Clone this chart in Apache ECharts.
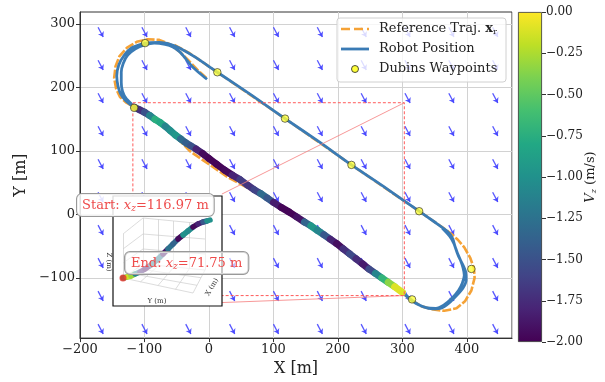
<!DOCTYPE html>
<html>
<head>
<meta charset="utf-8">
<script src="https://cdn.jsdelivr.net/npm/echarts@6/dist/echarts.min.js"></script>
<style>
html, body { margin: 0; padding: 0; background: #fff; }
#chart { width: 605px; height: 382px; }
</style>
</head>
<body>
<div id="chart"></div>
<script>
// ---- data ----
var yTicks = [-100, 0, 100, 200, 300];

// quiver grid (tails) and the single current vector
var quiverX = [-172, -104, -36, 32, 100, 168, 236, 304, 372, 440];
var quiverY = [295, 243, 191, 139, 87, 35, -17, -69, -121, -173];
var quiverU = [8];
var quiverV = [-15.5];

// Dubins waypoints
var wpX = [-99, 13, 118, -116, 221, 326, 407, 315];
var wpY = [270, 224, 151, 168, 78, 5, -86, -134];

// reference trajectory
var refX = [-4, -18, -32, -45, -60, -77, -95, -112, -127, -139, -145, -147, -144, -138, -128, -118,
  -90, -60, -30, 0, 30, 60, 100, 150, 200, 250, 300,
  315, 330, 348, 365, 384, 397, 407, 412, 411, 405, 396, 386, 376,
  370, 326, 221, 118, 13, -30, -55];
var refY = [215, 228, 243, 256, 268, 275, 276, 272, 263, 249, 233, 215, 198, 185, 176, 170,
  154, 132, 100, 79, 58, 42, 17, -15, -49, -88, -124,
  -136, -145, -150, -152, -148, -137, -120, -100, -85, -68, -52, -40, -31,
  -26, 5, 78, 151, 224, 254, 268];

// robot path pieces
var startLoopX = [-3, -14, -26, -35, -45, -56, -68, -85, -100, -114, -126, -133, -136, -136, -134, -128, -118];
var startLoopY = [213, 222, 233, 244, 256, 264, 268, 270, 267, 261, 251, 238, 224, 208, 194, 182, 172];

var descentX = [-116, -108, -100, -92, -84, -76, -68, -60, -52, -44, -36, -28, -20, -10, 0, 12, 24, 36, 48, 60,
  70, 80, 90, 100, 112, 124, 136, 148, 158, 168, 178, 188, 198, 208, 218, 228, 238, 248, 258, 268, 278, 288, 300];
var descentY = [169, 165, 161, 156, 150, 145, 139, 132, 125, 119, 113, 108, 103, 96, 88, 79, 70, 62, 55, 46,
  39, 33, 26, 19, 11, 4, -4, -12, -18, -25, -32, -39, -46, -54, -62, -70, -78, -86, -93, -100, -107, -114, -123];
var descentVz = [-1.4, -1.75, -1.7, -1.3, -0.9, -0.6, -1.0, -1.2, -0.8, -1.1, -1.5, -1.3, -1.7, -1.9, -2.0, -1.95, -2.0, -1.9, -1.7, -1.6,
  -1.8, -1.4, -1.2, -1.7, -2.0, -1.95, -2.0, -1.8, -0.9, -1.0, -1.2, -1.7, -1.9, -1.95, -1.5, -1.6, -1.9, -1.8, -1.3, -0.9, -0.5, -0.2, 0.0];

var turnAX = [310, 320, 333, 347, 360, 372, 384, 394, 399, 398, 393, 387, 382, 378, 370];
var turnAY = [-131, -139, -146, -149, -148, -140, -128, -116, -103, -90, -78, -66, -52, -38, -27];

var legX = [350, 326, 275, 221, 170, 118, 66, 13, -20, -45, -60, -77, -99, -119, -132, -140, -143, -141, -137, -129, -118];
var legY = [-12, 5, 41, 78, 115, 151, 188, 224, 247, 262, 268, 271, 270, 263, 250, 235, 218, 202, 190, 179, 170];

var turnBX = [310, 322, 337, 352, 364, 376, 387, 393, 396, 394, 390, 385, 380, 373, 362];
var turnBY = [-132, -141, -147, -148, -143, -133, -120, -108, -96, -84, -72, -60, -46, -34, -22];

// zoom rectangle and inset connectors
var zoomRectX = [-118, 303, 303, -118, -118];
var zoomRectY = [176, 176, -128, -128, 176];
var connectors = [
  [[303, 176], [20, 32]],
  [[303, -128], [20, -139]],
  [[-118, -128], [-149, -139]]
];

// inset (3D view, projected) in inset units
var insetX = [10, 14, 18, 22, 27, 32, 38, 44, 50, 55, 60, 65, 70, 75, 80, 85, 90, 94, 97];
var insetY = [82, 81, 80, 78, 76, 73, 69, 64, 58, 53, 48, 43, 39, 35, 31, 28, 26, 25, 24];
var insetVz = [-1.0, -0.3, 0.0, -0.6, -1.6, -2.0, -1.9, -0.4, -2.0, -1.8, -0.7, -2.0, -1.9, -0.1, -2.0, -1.9, -1.7, -1.2, -0.8];
var insetPane = [
  [[10, 38], [10, 82]], [[10, 38], [30, 22]], [[30, 22], [30, 68]], [[10, 82], [30, 68]],
  [[10, 53], [30, 38]], [[10, 67], [30, 53]],
  [[30, 22], [92, 28]], [[92, 28], [92, 74]], [[30, 68], [92, 74]],
  [[45, 23.5], [45, 69.5]], [[60, 25], [60, 71]], [[76, 26.5], [76, 72.5]],
  [[30, 38], [92, 43]], [[30, 53], [92, 58]],
  [[10, 82], [80, 97]], [[80, 97], [92, 74]],
  [[16.7, 77.3], [84, 89.3]], [[23.3, 72.7], [88, 81.7]],
  [[27.5, 85.8], [45.5, 69.5]], [[45, 89.5], [61, 71]], [[62.5, 93.3], [76.5, 72.5]]
];

// ---- helpers ----
var viridisStops = ['#440154', '#482475', '#414487', '#355f8d', '#2a788e', '#21918c',
  '#22a884', '#44bf70', '#7ad151', '#bddf26', '#fde725'];

function hexRgb(h) {
  return [parseInt(h.substr(1, 2), 16), parseInt(h.substr(3, 2), 16), parseInt(h.substr(5, 2), 16)];
}
function viridis(vz) {
  var t = Math.max(0, Math.min(1, (vz + 2) / 2)) * 10;
  var i = Math.min(9, Math.floor(t));
  var f = t - i;
  var a = hexRgb(viridisStops[i]), b = hexRgb(viridisStops[i + 1]);
  var c = [0, 1, 2].map(function (k) { return Math.round(a[k] + (b[k] - a[k]) * f); });
  return 'rgb(' + c.join(',') + ')';
}
function zip(xs, ys) {
  return xs.map(function (x, i) { return [x, ys[i]]; });
}
function colorSegments(xs, ys, vs) {
  var out = [];
  for (var i = 0; i < xs.length - 1; i++) {
    out.push({
      coords: [[xs[i], ys[i]], [xs[i + 1], ys[i + 1]]],
      lineStyle: { color: viridis((vs[i] + vs[i + 1]) / 2) }
    });
  }
  return out;
}
function minus(v) { return String(v).replace('-', '\u2212'); }

var quiverData = [];
quiverX.forEach(function (x) {
  quiverY.forEach(function (y) {
    quiverData.push({ coords: [[x, y], [x + quiverU[0], y + quiverV[0]]] });
  });
});

var robotData = [].concat(zip(startLoopX, startLoopY), zip(descentX, descentY), zip(turnAX, turnAY),
  zip(legX, legY), zip(descentX, descentY), zip(turnBX, turnBY));

var cbGradient = new echarts.graphic.LinearGradient(0, 0, 0, 1,
  viridisStops.slice().reverse().map(function (c, i) { return { offset: i / 10, color: c }; }));

var serif = 'DejaVu Serif';
var txt = '#222';
var red = '#ee4b4b';
var blue = '#3a7bb5';
var orange = '#f5a236';

function labelRich(size) {
  return {
    a: { fontSize: size, fontFamily: serif, fill: red, color: red },
    i: { fontSize: size, fontFamily: serif, fontStyle: 'italic', fill: red, color: red },
    s: { fontSize: 9, fontFamily: serif, fontStyle: 'italic', fill: red, color: red, padding: [6, 0, 0, 0] }
  };
}

var chart = echarts.init(document.getElementById('chart'));
var option = {
  animation: false,
  textStyle: { fontFamily: serif },
  grid: [
    { left: 80, top: 12, width: 432, height: 330, show: true, borderColor: '#333', borderWidth: 1 },
    { left: 113, top: 196, width: 109, height: 110 },
    { left: 518, top: 12, width: 24, height: 330 }
  ],
  xAxis: [
    {
      gridIndex: 0, type: 'value', min: -200, max: 470, interval: 100,
      axisLine: { show: true, onZero: false, lineStyle: { color: '#333' } },
      axisTick: { show: true, length: 4, lineStyle: { color: '#333' } },
      axisLabel: { fontSize: 13, color: txt, fontFamily: serif, margin: 5, formatter: minus,
        showMaxLabel: false },
      splitLine: { show: true, lineStyle: { color: '#d2d2d2', width: 1 } },
      name: 'X [m]', nameLocation: 'middle', nameGap: 20,
      nameTextStyle: { fontSize: 16, color: txt, fontFamily: serif }
    },
    { gridIndex: 1, type: 'value', min: 0, max: 109, show: false },
    { gridIndex: 2, type: 'category', data: ['cb'], show: false }
  ],
  yAxis: [
    {
      gridIndex: 0, type: 'value', min: -195, max: 319,
      axisLine: { show: true, onZero: false, lineStyle: { color: '#333' } },
      axisTick: { show: true, length: 4, customValues: yTicks, lineStyle: { color: '#333' } },
      axisLabel: { fontSize: 13, color: txt, fontFamily: serif, margin: 5, customValues: yTicks, formatter: minus },
      splitLine: { show: true, lineStyle: { color: '#d2d2d2', width: 1 } },
      name: 'Y [m]', nameLocation: 'middle', nameGap: 48,
      nameTextStyle: { fontSize: 16, color: txt, fontFamily: serif }
    },
    { gridIndex: 1, type: 'value', min: 0, max: 110, inverse: true, show: false },
    {
      gridIndex: 2, type: 'value', min: -2, max: 0, interval: 0.25, position: 'right',
      axisLine: { show: false },
      axisTick: { show: true, length: 4, lineStyle: { color: '#333' } },
      axisLabel: { fontSize: 12, color: txt, fontFamily: serif, margin: 4,
        formatter: function (v) { return minus(v.toFixed(2)); } },
      splitLine: { show: false }
    }
  ],
  series: [
    {
      type: 'lines', coordinateSystem: 'cartesian2d', xAxisIndex: 0, yAxisIndex: 0, z: 2, silent: true,
      symbol: ['none', 'arrow'], symbolSize: 5,
      lineStyle: { color: '#4545ff', width: 1.3, opacity: 0.9 },
      data: quiverData
    },
    {
      type: 'line', xAxisIndex: 0, yAxisIndex: 0, z: 3, silent: true, showSymbol: false,
      lineStyle: { color: orange, width: 2.6, type: [9, 2] },
      data: zip(refX, refY)
    },
    {
      type: 'line', xAxisIndex: 0, yAxisIndex: 0, z: 4, silent: true, showSymbol: false, smooth: 0.2,
      lineStyle: { color: blue, width: 2.8 },
      data: robotData
    },
    {
      type: 'lines', coordinateSystem: 'cartesian2d', xAxisIndex: 0, yAxisIndex: 0, z: 5, silent: true,
      lineStyle: { width: 7, cap: 'round', opacity: 1 },
      data: colorSegments(descentX, descentY, descentVz)
    },
    {
      type: 'line', xAxisIndex: 0, yAxisIndex: 0, z: 6, silent: true, showSymbol: false,
      lineStyle: { color: '#ff5a5a', width: 1, type: [3, 2] },
      data: zip(zoomRectX, zoomRectY)
    },
    {
      type: 'lines', coordinateSystem: 'cartesian2d', xAxisIndex: 0, yAxisIndex: 0, z: 6, silent: true,
      lineStyle: { color: '#f58080', width: 0.9, opacity: 0.9 },
      data: connectors.map(function (c) { return { coords: c }; })
    },
    {
      type: 'scatter', xAxisIndex: 0, yAxisIndex: 0, z: 7, silent: true, symbolSize: 7.5,
      itemStyle: { color: '#ffff3a', borderColor: '#222', borderWidth: 0.8 },
      data: zip(wpX, wpY)
    },
    // inset
    {
      type: 'lines', coordinateSystem: 'cartesian2d', xAxisIndex: 1, yAxisIndex: 1, z: 12, silent: true,
      lineStyle: { color: '#cdcdcd', width: 0.7, opacity: 1 },
      data: insetPane.map(function (c) { return { coords: c }; })
    },
    {
      type: 'lines', coordinateSystem: 'cartesian2d', xAxisIndex: 1, yAxisIndex: 1, z: 12, silent: true,
      lineStyle: { width: 5.5, cap: 'round', opacity: 1 },
      data: colorSegments(insetX, insetY, insetVz)
    },
    {
      type: 'scatter', xAxisIndex: 1, yAxisIndex: 1, z: 12, silent: true, symbolSize: 7,
      itemStyle: { color: '#e8302a' },
      data: [[insetX[0], insetY[0]]]
    },
    // colorbar
    {
      type: 'bar', xAxisIndex: 2, yAxisIndex: 2, barWidth: '100%', silent: true,
      itemStyle: { color: cbGradient, borderColor: '#333', borderWidth: 0.8 },
      data: [-2]
    }
  ],
  graphic: [
    { type: 'rect', z: 10, silent: true, shape: { x: 113, y: 196, width: 109, height: 110 }, style: { fill: '#fff' } },
    { type: 'rect', z: 13, silent: true, shape: { x: 113, y: 196, width: 109, height: 110 }, style: { fill: null, stroke: '#111', lineWidth: 1.2 } },
    { type: 'text', z: 13, silent: true, x: 109, y: 262, rotation: -Math.PI / 2,
      style: { text: 'Z (m)', fontSize: 7, fontFamily: serif, fill: '#333', align: 'center', verticalAlign: 'middle' } },
    { type: 'text', z: 13, silent: true, x: 157, y: 301,
      style: { text: 'Y (m)', fontSize: 7, fontFamily: serif, fill: '#333', align: 'center', verticalAlign: 'middle' } },
    { type: 'text', z: 13, silent: true, x: 212, y: 287, rotation: 1.05,
      style: { text: 'X (m)', fontSize: 7, fontFamily: serif, fill: '#333', align: 'center', verticalAlign: 'middle' } },
    { type: 'text', z: 20, silent: true, x: 77, y: 194,
      style: {
        text: '{a|Start: }{i|x}{s|z}{a|=116.97 m}', fill: red,
        backgroundColor: 'rgba(255,255,255,0.85)', borderColor: '#999', borderWidth: 1, borderRadius: 5,
        padding: [4, 5, 3, 5],
        rich: labelRich(13)
      } },
    { type: 'text', z: 20, silent: true, x: 125, y: 252,
      style: {
        text: '{a|End: }{i|x}{s|z}{a|=71.75 m}', fill: red,
        backgroundColor: 'rgba(255,255,255,0.6)', borderColor: '#999', borderWidth: 1, borderRadius: 5,
        padding: [4, 6, 3, 6],
        rich: labelRich(13)
      } },
    // legend
    { type: 'rect', z: 20, silent: true, shape: { x: 337, y: 18, width: 169, height: 64, r: 3 },
      style: { fill: 'rgba(255,255,255,0.8)', stroke: '#d0d0d0', lineWidth: 1 } },
    { type: 'line', z: 21, silent: true, shape: { x1: 341, y1: 29, x2: 369, y2: 29 },
      style: { stroke: orange, lineWidth: 2.5, lineDash: [9, 4] } },
    { type: 'line', z: 21, silent: true, shape: { x1: 341, y1: 49, x2: 369, y2: 49 },
      style: { stroke: blue, lineWidth: 2.8 } },
    { type: 'circle', z: 21, silent: true, shape: { cx: 355, cy: 69, r: 3.5 },
      style: { fill: '#ffff3a', stroke: '#222', lineWidth: 0.8 } },
    { type: 'text', z: 21, silent: true, x: 379, y: 29,
      style: {
        text: '{a|Reference Traj. }{b|x}{s|r}', verticalAlign: 'middle',
        rich: {
          a: { fontSize: 13, fontFamily: serif, color: txt, fill: txt },
          b: { fontSize: 13, fontFamily: serif, fontWeight: 'bold', color: txt, fill: txt },
          s: { fontSize: 8, fontFamily: serif, color: txt, fill: txt, padding: [6, 0, 0, 0] }
        }
      } },
    { type: 'text', z: 21, silent: true, x: 379, y: 49,
      style: { text: 'Robot Position', fontSize: 13, fontFamily: serif, fill: txt, verticalAlign: 'middle' } },
    { type: 'text', z: 21, silent: true, x: 379, y: 69,
      style: { text: 'Dubins Waypoints', fontSize: 13, fontFamily: serif, fill: txt, verticalAlign: 'middle' } },
    // colorbar title
    { type: 'text', z: 21, silent: true, x: 591, y: 177, rotation: Math.PI / 2,
      style: {
        text: '{i|V}{s|z}{a| (m/s)}', align: 'center', verticalAlign: 'middle',
        rich: {
          i: { fontSize: 13, fontFamily: serif, fontStyle: 'italic', color: txt, fill: txt },
          s: { fontSize: 8, fontFamily: serif, fontStyle: 'italic', color: txt, fill: txt, padding: [6, 0, 0, 0] },
          a: { fontSize: 13, fontFamily: serif, color: txt, fill: txt }
        }
      } }
  ]
};
chart.setOption(option);
</script>
</body>
</html>
